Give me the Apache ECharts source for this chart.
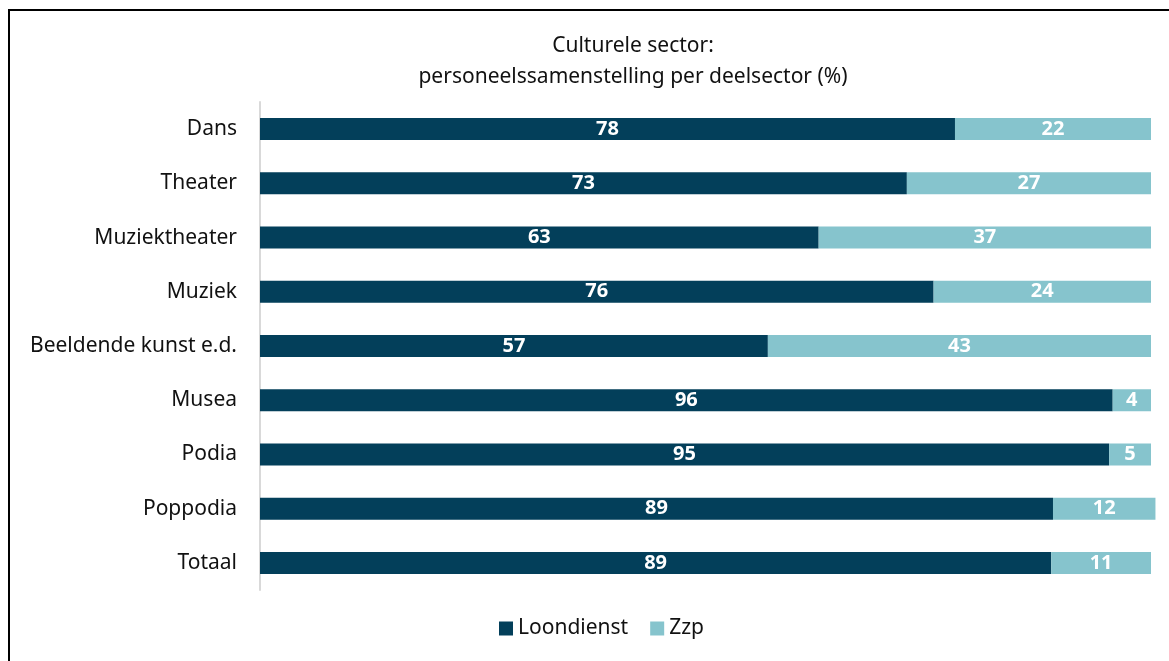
<!DOCTYPE html>
<html>
<head>
<meta charset="utf-8">
<title>Culturele sector</title>
<script src="https://cdn.jsdelivr.net/npm/echarts@6/dist/echarts.min.js"></script>
<style>
  html, body { margin: 0; padding: 0; background: #fff; }
  #frame {
    position: absolute; left: 8px; top: 9px;
    width: 1200px; height: 700px;
    border: 2px solid #000; box-sizing: border-box;
  }
  #chart { position: absolute; left: 0; top: 0; width: 1169px; height: 661px; }
</style>
</head>
<body>
<div id="frame"></div>
<div id="chart"></div>
<script>
// deelsectoren, van boven naar beneden
const categories = ['Dans', 'Theater', 'Muziektheater', 'Muziek', 'Beeldende kunst e.d.', 'Musea', 'Podia', 'Poppodia', 'Totaal'];
const loondienst = [78, 72.6, 62.7, 75.6, 57, 95.7, 95.3, 89, 88.8];
const zzp = [22, 27.4, 37.3, 24.4, 43, 4.3, 4.7, 11.5, 11.2];

const font = "'Noto Sans', sans-serif";
const darkBlue = '#033f5a';
const lightBlue = '#86c4cd';

const barLabel = {
  show: true,
  position: 'inside',
  color: '#fff',
  fontFamily: font,
  fontWeight: 'bold',
  fontSize: 20,
  // percentages afgerond op hele getallen
  formatter: p => Math.round(p.value)
};

const chart = echarts.init(document.getElementById('chart'));
chart.setOption({
  backgroundColor: 'transparent',
  animation: false,
  title: {
    text: 'Culturele sector:\npersoneelssamenstelling per deelsector (%)',
    left: 628,
    top: 26,
    textAlign: 'center',
    textStyle: { fontFamily: font, fontWeight: 'normal', fontSize: 21, color: '#111', lineHeight: 31 }
  },
  legend: {
    data: ['Loondienst', 'Zzp'],
    left: 494,
    top: 613,
    itemWidth: 14,
    itemHeight: 14,
    itemGap: 22,
    icon: 'rect',
    textStyle: { fontFamily: font, fontSize: 21, color: '#111' }
  },
  grid: { left: 260, right: 18, top: 102, bottom: 71, containLabel: false },
  xAxis: {
    type: 'value',
    min: 0,
    max: 100,
    show: false
  },
  yAxis: {
    type: 'category',
    inverse: true,
    data: categories,
    axisLine: { show: true, lineStyle: { color: '#d9d9d9', width: 2 } },
    axisTick: { show: false },
    axisLabel: { fontFamily: font, fontSize: 21, color: '#111', margin: 23 }
  },
  series: [
    {
      name: 'Loondienst',
      type: 'bar',
      stack: 'totaal',
      barWidth: 22,
      clip: false,
      itemStyle: { color: darkBlue },
      label: barLabel,
      data: loondienst
    },
    {
      name: 'Zzp',
      type: 'bar',
      stack: 'totaal',
      barWidth: 22,
      clip: false,
      itemStyle: { color: lightBlue },
      label: barLabel,
      data: zzp
    }
  ]
});
</script>
</body>
</html>
